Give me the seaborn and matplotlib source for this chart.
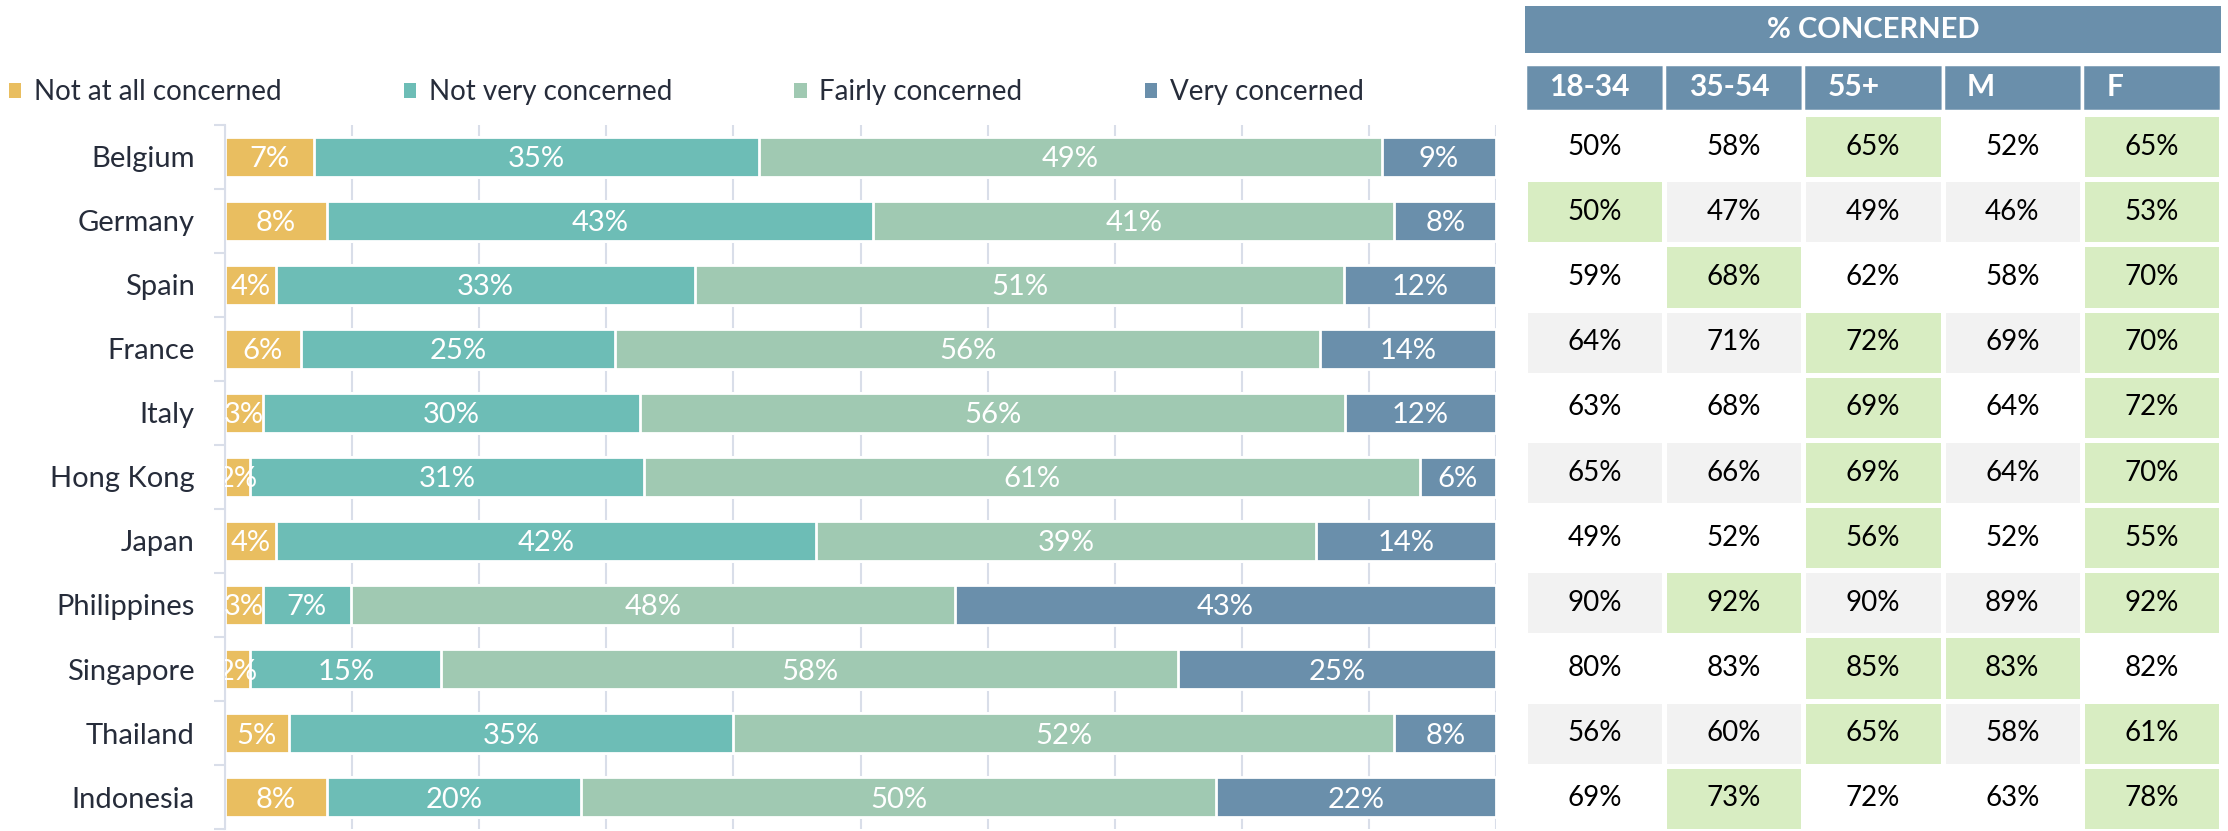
import numpy as np
import pandas as pd
import seaborn as sns
import matplotlib.pyplot as plt
from matplotlib.colors import ListedColormap
from matplotlib.patches import Patch, Rectangle

# stacked bar data (% of respondents)
countries = ["Belgium", "Germany", "Spain", "France", "Italy", "Hong Kong",
             "Japan", "Philippines", "Singapore", "Thailand", "Indonesia"]
levels = ["Not at all concerned", "Not very concerned", "Fairly concerned", "Very concerned"]
not_at_all = [7, 8, 4, 6, 3, 2, 4, 3, 2, 5, 8]
not_very = [35, 43, 33, 25, 30, 31, 42, 7, 15, 35, 20]
fairly = [49, 41, 51, 56, 56, 61, 39, 48, 58, 52, 50]
very = [9, 8, 12, 14, 12, 6, 14, 43, 25, 8, 22]

# % concerned table
groups = ["18-34", "35-54", "55+", "M", "F"]
age_18_34 = [50, 50, 59, 64, 63, 65, 49, 90, 80, 56, 69]
age_35_54 = [58, 47, 68, 71, 68, 66, 52, 92, 83, 60, 73]
age_55 = [65, 49, 62, 72, 69, 69, 56, 90, 85, 65, 72]
male = [52, 46, 58, 69, 64, 64, 52, 89, 83, 58, 63]
female = [65, 53, 70, 70, 72, 70, 55, 92, 82, 61, 78]

colors = {"Not at all concerned": "#E9BE60", "Not very concerned": "#6DBDB6",
          "Fairly concerned": "#A0C9B2", "Very concerned": "#6A8FAB"}
blue = "#6A8FAB"
grid_col = "#D9DEE9"
text_col = "#262C3A"

df = pd.DataFrame({"country": countries, levels[0]: not_at_all, levels[1]: not_very,
                   levels[2]: fairly, levels[3]: very})
shares = df[levels].div(df[levels].sum(axis=1), axis=0) * 100
cum = shares.cumsum(axis=1)

sns.set_theme(style="white")
plt.rcParams["font.family"] = ["Lato", "DejaVu Sans"]

fig = plt.figure(figsize=(22.28, 8.31), dpi=100)
ax = fig.add_axes([0.101, 0.0024, 0.5705, 0.8472])

# draw cumulative totals back to front -> stacked look
for lvl in reversed(levels):
    sns.barplot(x=cum[lvl], y=df["country"], orient="h", color=colors[lvl], saturation=1,
                width=0.62, edgecolor="white", linewidth=2, errorbar=None, ax=ax, zorder=2)

for lvl in levels:
    centers = cum[lvl] - shares[lvl] / 2
    for i, (c, v) in enumerate(zip(centers, df[lvl])):
        ax.text(c, i, f"{v}%", ha="center", va="center_baseline", color="white",
                fontsize=21, clip_on=True, zorder=3)

ax.set_xlim(0, 100)
ax.set_ylim(10.5, -0.5)
ax.set_xticks(range(0, 101, 10))
ax.xaxis.grid(True, color=grid_col, lw=1.5)
ax.set_axisbelow(True)
ax.tick_params(axis="x", length=0, labelbottom=False)
ax.set_xlabel("")
ax.set_ylabel("")
for s in ["top", "right", "bottom"]:
    ax.spines[s].set_visible(False)
ax.spines["left"].set_color(grid_col)
ax.spines["left"].set_linewidth(1.5)
ax.set_yticks(np.arange(-0.5, 11, 1), minor=True)
ax.tick_params(axis="y", which="major", length=0, pad=22, labelsize=21, labelcolor=text_col)
ax.tick_params(axis="y", which="minor", length=8, width=1.5, color=grid_col, left=True)

handles = [Patch(facecolor=colors[l], edgecolor="none", label=l) for l in levels]
fig.legend(handles=handles, loc="center left", bbox_to_anchor=(0.004, 0.889), ncol=4,
           frameon=False, fontsize=20, handlelength=0.45, handleheight=0.45,
           handletextpad=0.45, columnspacing=4.4, borderaxespad=0, borderpad=0,
           labelcolor=text_col)

# table
tbl = pd.DataFrame(dict(zip(groups, [age_18_34, age_35_54, age_55, male, female])), index=countries)
ages, sexes = groups[:3], groups[3:]
hl = pd.concat([tbl[ages].eq(tbl[ages].max(axis=1), axis=0),
                tbl[sexes].eq(tbl[sexes].max(axis=1), axis=0)], axis=1)
shade = np.where(hl.values, 2, (np.arange(len(countries)) % 2)[:, None])
labels = tbl.astype(str).add("%").values

ax_t = fig.add_axes([0.6845, 0, 0.3124, 0.8628])
sns.heatmap(shade, cmap=ListedColormap(["white", "#F2F2F2", "#D8EDC2"]), vmin=-0.5, vmax=2.5,
            cbar=False, annot=labels, fmt="", annot_kws={"fontsize": 20, "color": "black"},
            linewidths=2.5, linecolor="white", xticklabels=False, yticklabels=False, ax=ax_t)
ax_t.tick_params(length=0)

ax_h = fig.add_axes([0.6845, 1 - 111 / 831, 0.3124, 105 / 831])
ax_h.set_xlim(0, 5)
ax_h.set_ylim(0, 1)
ax_h.set_axis_off()
ax_h.add_patch(Rectangle((0, 0.552), 5, 0.448, facecolor=blue, edgecolor="none"))
ax_h.text(2.5, 0.776, "% CONCERNED", ha="center", va="center", color="white",
          fontsize=21, fontweight="bold")
for j, g in enumerate(groups):
    ax_h.add_patch(Rectangle((j, 0), 1, 0.448, facecolor=blue, edgecolor="white", lw=2.5))
    ax_h.text(j + 0.175, 0.224, g, ha="left", va="center", color="white",
              fontsize=21.5, fontweight="bold")

fig.savefig("out.png", dpi=100)
